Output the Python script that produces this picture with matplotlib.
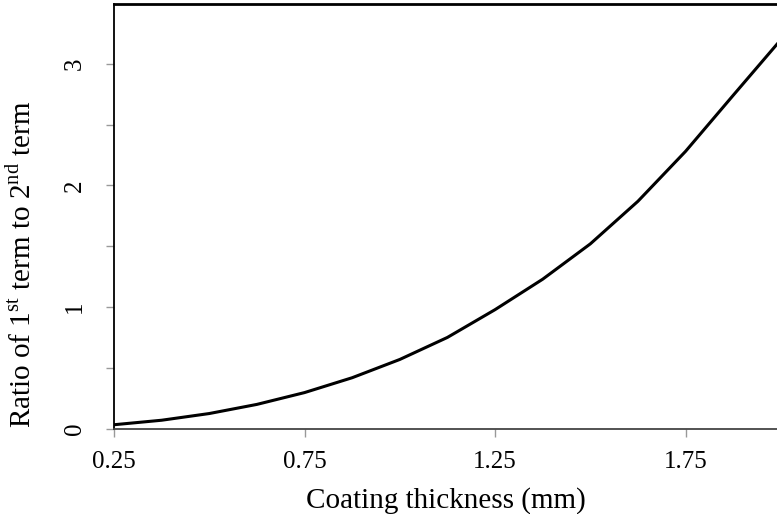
import numpy as np
import matplotlib
matplotlib.use('Agg')
import matplotlib.pyplot as plt
import matplotlib.ticker as ticker

# values
thickness = [0.25, 0.375, 0.50, 0.625, 0.75, 0.875, 1.00, 1.125, 1.25,
             1.375, 1.50, 1.625, 1.75, 1.875, 1.99]
ratio = [0.035, 0.072, 0.127, 0.202, 0.299, 0.421, 0.571, 0.752, 0.98,
         1.23, 1.52, 1.87, 2.28, 2.74, 3.16]
x_ticks = [0.25, 0.75, 1.25, 1.75]
y_ticks = [0, 1, 2, 3]

plt.rcParams['font.family'] = ['Liberation Serif']
plt.rcParams['mathtext.fontset'] = 'custom'
plt.rcParams['mathtext.rm'] = 'Liberation Serif'

fig = plt.figure(figsize=(7.77, 5.14), dpi=100)
ax = fig.add_axes([114 / 777, 1 - 429 / 514, 1 - 114 / 777, (429 - 4) / 514])

ax.plot(thickness, ratio, color='black', lw=2.2, solid_joinstyle='round')

ax.set_xlim(0.25, 1.99)
ax.set_ylim(0, 3.49)
ax.set_xticks(x_ticks)
ax.set_xticklabels(['0.25', '0.75', '1.25', '1.75'])
ax.set_yticks(y_ticks)
ax.set_yticklabels([str(v) for v in y_ticks], rotation=90, va='center')
ax.yaxis.set_minor_locator(ticker.MultipleLocator(0.5))

ax.tick_params(axis='both', which='both', direction='out', length=6,
               width=1, color='#999999', labelsize=18)
ax.tick_params(axis='y', pad=14)
ax.tick_params(axis='x', pad=10)

ax.spines['right'].set_visible(False)
ax.spines['top'].set_linewidth(2)
ax.spines['left'].set_linewidth(1.3)
ax.spines['bottom'].set_linewidth(1.3)
ax.spines['bottom'].set_color('#444444')

ax.set_xlabel('Coating thickness (mm)', fontsize=21, labelpad=10)
ax.set_ylabel(r'Ratio of 1$^{\mathrm{st}}$ term to 2$^{\mathrm{nd}}$ term',
              fontsize=21)
ax.yaxis.set_label_coords(-0.116, 0.388)

fig.savefig('out.png', dpi=100)
